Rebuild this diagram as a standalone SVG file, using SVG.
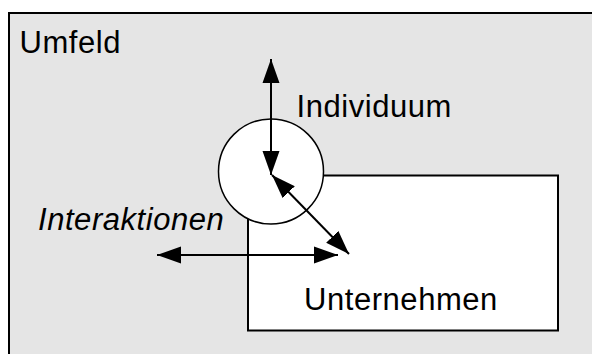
<svg xmlns="http://www.w3.org/2000/svg" width="592" height="354" viewBox="0 0 592 354">
<style>
text{font-family:"Liberation Sans",Arial,sans-serif;font-size:31px;letter-spacing:0.55px;fill:#000}
.conn line{stroke:#000;stroke-width:2;marker-start:url(#ah);marker-end:url(#ah)}
</style>
<defs>
<marker id="ah" markerUnits="userSpaceOnUse" markerWidth="24" markerHeight="18" refX="24" refY="8.5" orient="auto-start-reverse" viewBox="0 0 24 17">
<path d="M0,0 L24,8.5 L0,17 z" fill="#000"/>
</marker>
</defs>
<rect width="592" height="354" fill="#fff"/>
<g id="umfeld">
<rect x="9" y="13" width="600" height="360" fill="#e5e5e5" stroke="#000" stroke-width="2"/>
<text x="19.5" y="53.3">Umfeld</text>
</g>
<g id="unternehmen">
<rect x="248" y="175.5" width="310" height="155" fill="#fff" stroke="#000" stroke-width="2"/>
<text x="304" y="310">Unternehmen</text>
</g>
<g id="individuum">
<circle cx="271" cy="171.5" r="52.5" fill="#fff" stroke="#000" stroke-width="1.5"/>
<text x="296.5" y="116.7">Individuum</text>
</g>
<g id="interaktionen">
<text x="38" y="230" font-style="italic">Interaktionen</text>
</g>
<g class="conn" id="connectors">
<line x1="271" y1="59" x2="271" y2="175"/>
<line x1="272" y1="175" x2="349" y2="254"/>
<line x1="157" y1="255" x2="338" y2="255"/>
</g>
</svg>
